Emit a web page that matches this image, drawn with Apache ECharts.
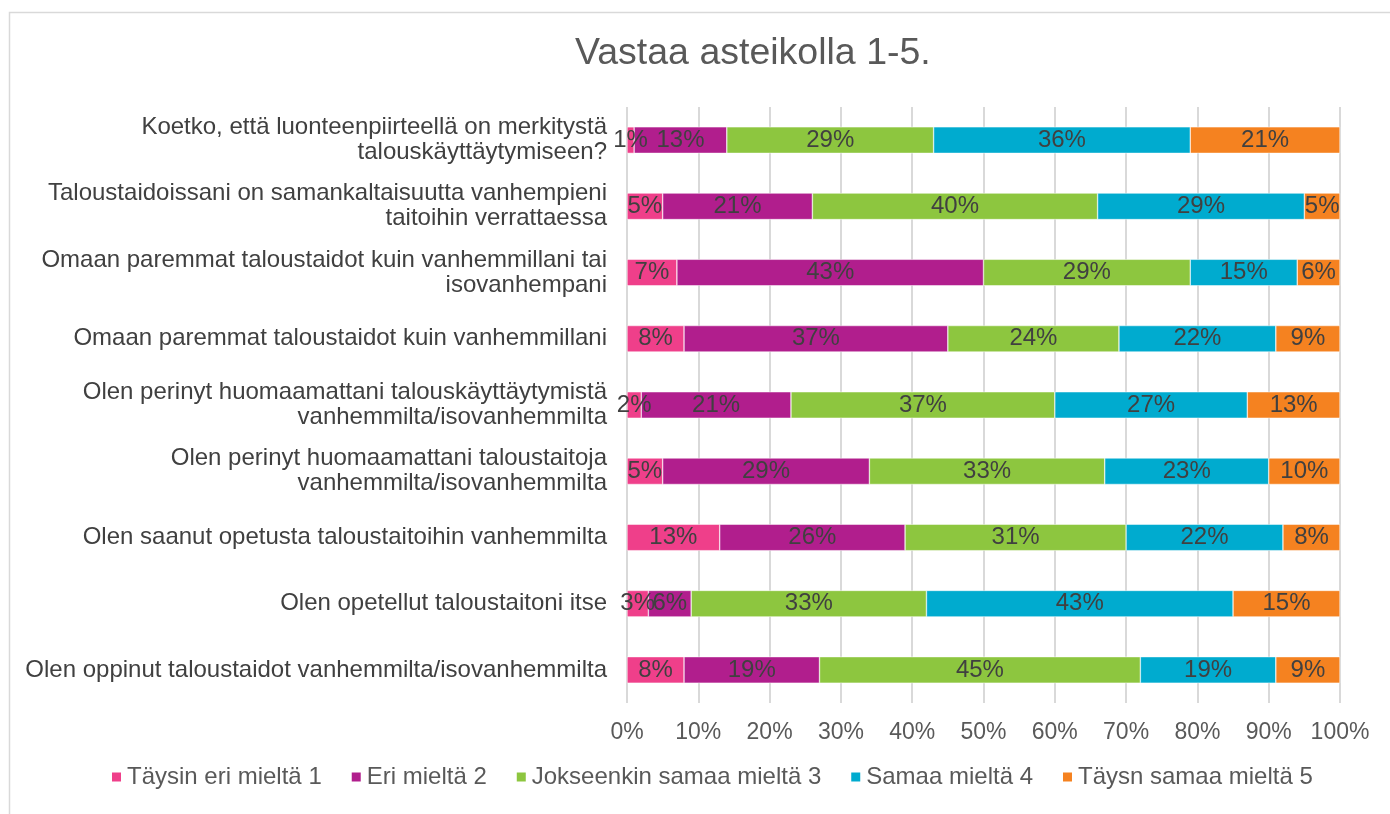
<!DOCTYPE html>
<html>
<head>
<meta charset="utf-8">
<script src="https://cdn.jsdelivr.net/npm/echarts@6/dist/echarts.min.js"></script>
<style>html,body{margin:0;padding:0;background:#fff;}#c{width:1390px;height:814px;}</style>
</head>
<body>
<div id="c"></div>
<script>
const categories = [
  'Koetko, että luonteenpiirteellä on merkitystä\ntalouskäyttäytymiseen?',
  'Taloustaidoissani on samankaltaisuutta vanhempieni\ntaitoihin verrattaessa',
  'Omaan paremmat taloustaidot kuin vanhemmillani tai\nisovanhempani',
  'Omaan paremmat taloustaidot kuin vanhemmillani',
  'Olen perinyt huomaamattani talouskäyttäytymistä\nvanhemmilta/isovanhemmilta',
  'Olen perinyt huomaamattani taloustaitoja\nvanhemmilta/isovanhemmilta',
  'Olen saanut opetusta taloustaitoihin vanhemmilta',
  'Olen opetellut taloustaitoni itse',
  'Olen oppinut taloustaidot vanhemmilta/isovanhemmilta'
];
const seriesNames = ['Täysin eri mieltä 1', 'Eri mieltä 2', 'Jokseenkin samaa mieltä 3', 'Samaa mieltä 4', 'Täysn samaa mieltä 5'];
const s1 = [1, 5, 7, 8, 2, 5, 13, 3, 8];
const s2 = [13, 21, 43, 37, 21, 29, 26, 6, 19];
const s3 = [29, 40, 29, 24, 37, 33, 31, 33, 45];
const s4 = [36, 29, 15, 22, 27, 23, 22, 43, 19];
const s5 = [21, 5, 6, 9, 13, 10, 8, 15, 9];
const colors = ['#EF3F8A', '#B11E8D', '#8DC63F', '#00ABCF', '#F58220'];
const titleText = 'Vastaa asteikolla 1-5.';

const chart = echarts.init(document.getElementById('c'), null, {renderer: 'canvas'});
const dataSets = [s1, s2, s3, s4, s5];
const font = 'Liberation Sans, Arial, sans-serif';
chart.setOption({
  animation: false,
  backgroundColor: '#fff',
  color: colors,
  title: {
    text: titleText, left: 570, top: 30,
    textStyle: {fontFamily: font, fontSize: 37.5, fontWeight: 'normal', color: '#595959'}
  },
  graphic: [{
    type: 'rect', left: 7, top: 10,
    shape: {width: 1420, height: 830},
    style: {fill: 'none', stroke: '#d9d9d9', lineWidth: 1.5},
    silent: true, z: -1
  }],
  legend: {
    bottom: 20, left: 105,
    itemWidth: 11, itemHeight: 11, itemGap: 28,
    icon: 'rect',
    textStyle: {fontFamily: font, fontSize: 24, color: '#595959'},
    data: seriesNames
  },
  grid: {left: 627, right: 50, top: 107, bottom: 111, containLabel: false},
  xAxis: {
    type: 'value', min: 0, max: 100, interval: 10,
    axisLabel: {formatter: '{value}%', fontFamily: font, fontSize: 23, color: '#595959', margin: 18},
    splitLine: {show: true, lineStyle: {color: '#d9d9d9', width: 2}},
    axisLine: {show: false}, axisTick: {show: false}
  },
  yAxis: {
    type: 'category', inverse: true, data: categories,
    axisLabel: {fontFamily: font, fontSize: 24, color: '#404040', margin: 20, lineHeight: 25, align: 'right'},
    axisLine: {show: false}, axisTick: {show: false}
  },
  series: dataSets.map((d, i) => ({
    name: seriesNames[i], type: 'bar', stack: 'total', barWidth: '40%',
    data: d,
    itemStyle: {borderColor: '#fff', borderWidth: 0.5},
    label: {show: true, position: 'inside', formatter: '{c}%', fontFamily: font, fontSize: 24, color: '#404040', textBorderWidth: 0, overflow: 'none'},
    labelLayout: {hideOverlap: false}
  }))
});
</script>
</body>
</html>
